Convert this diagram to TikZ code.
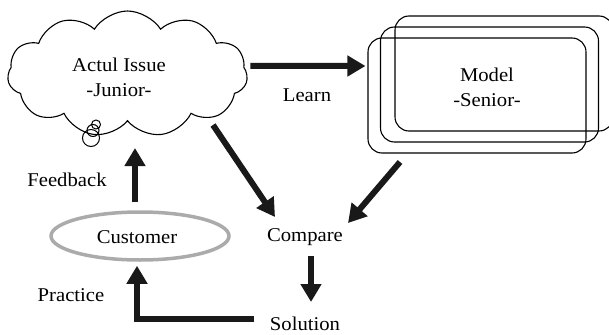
\documentclass[tikz,border=0pt]{standalone}
\usepackage{fontspec}
\setmainfont[FakeStretch=1.06]{Liberation Serif}
\usetikzlibrary{shapes.symbols,shapes.geometric,arrows.meta}

\tikzset{
  lbl/.style={font=\fontsize{19.5}{25}\selectfont, align=center, inner sep=0pt},
  arr/.style={line width=6pt, -{Triangle[length=18pt,width=20pt]}, black!90},
  panel/.style={draw, line width=1.1pt, rounded corners=14pt, minimum width=218pt, minimum height=115pt, inner sep=0pt},
}

\begin{document}
\begin{tikzpicture}[x=1pt,y=-1pt]
\useasboundingbox (0,0) rectangle (609,334);

% thought cloud for the junior's issue
\node[cloud, cloud puffs=11, cloud puff arc=115, cloud ignores aspect,
      draw, line width=1.1pt, minimum width=240pt, minimum height=126pt,
      inner sep=0pt] (issue) at (127.5,74) {};
\node[lbl] (issuetxt) at (119,77.5) {Actul Issue\\-Junior-};
\draw[line width=1pt] (91,138) circle[radius=8.5];
\draw[line width=1pt] (93,130.5) circle[radius=6];
\draw[line width=1pt] (96,124.5) circle[radius=4.5];

% stacked senior model panels
\node[panel] (model3) at (504,73.5) {};
\node[panel] (model2) at (489.5,84.5) {};
\node[panel] (model) at (477,95.5) {};
\node[lbl] (modeltxt) at (487,87) {Model\\-Senior-};

% other labels
\node[lbl] (learn) at (307,95) {Learn};
\node[lbl] (compare) at (305,237) {Compare};
\node[lbl] (solution) at (305,324) {Solution};
\node[lbl] (feedback) at (67,180) {Feedback};
\node[lbl] (practice) at (71,295) {Practice};
\node[ellipse, draw=black!33, line width=3.5pt, minimum width=178pt,
      minimum height=48pt, inner sep=0pt] (customer) at (140,236) {};
\node[lbl] (customertxt) at (137,237) {Customer};

% connectors
\draw[arr] ([shift={(3,-8)}]issue.east) -- ([shift={(-2,-29.5)}]model.west);
\draw[arr] ([shift={(85.5,51)}]issue.center) -- ([shift={(-30,-20)}]compare.center);
\draw[arr] ([shift={(-77,66.5)}]model.center) -- ([shift={(43,-14)}]compare.center);
\draw[arr] ([shift={(6,19)}]compare.center) -- ([shift={(6,-22)}]solution.center);
\draw[arr] ([shift={(-51,-5)}]solution.center) -| ([shift={(-3,4)}]customer.south);
\draw[arr] ([shift={(-5,-8)}]customer.north) -- ([shift={(7.5,74)}]issue.center);
\end{tikzpicture}
\end{document}
